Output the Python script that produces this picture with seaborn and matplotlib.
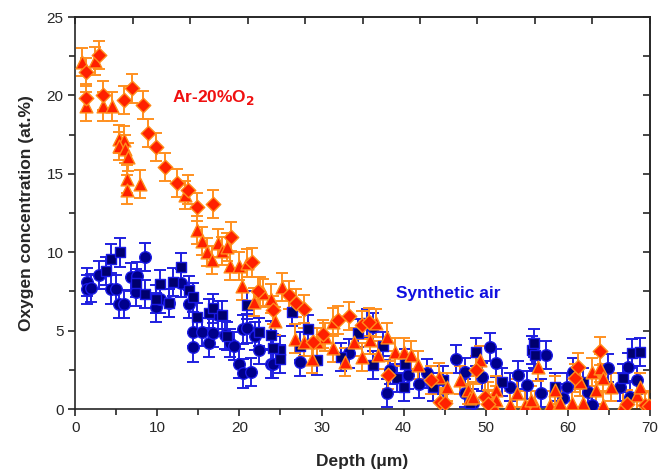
import numpy as np
import pandas as pd
import seaborn as sns
import matplotlib.pyplot as plt
from matplotlib.ticker import MultipleLocator

# Ar-20%O2 - losangos
ar_diam_x = [1.34, 2.84, 1.3, 3.37, 5.9, 6.9, 8.3, 8.85, 9.86, 10.9, 12.4, 13.7, 14.8, 16.8, 19.0,
             21.5, 22.3, 24.1, 26.0, 26.9, 27.9, 29.0, 30.2, 32.05, 33.4, 34.9, 35.8, 38.1, 43.4,
             44.4, 45.0, 48.8, 49.9, 60.9, 61.3, 63.9, 69.4, 50.3, 67.2, 69.9]
ar_diam_y = [21.5, 22.6, 19.85, 20.0, 19.7, 20.45, 19.4, 17.6, 16.7, 15.45, 14.4, 14.0, 12.9, 13.1, 11.0,
             9.35, 7.5, 6.3, 7.27, 6.74, 6.4, 4.3, 4.8, 5.7, 5.93, 5.36, 5.57, 2.17, 1.85,
             0.47, 0.36, 2.5, 0.8, 1.96, 2.66, 3.7, 0.26, 0.3, 0.3, 0.2]

# Ar-20%O2 - triangulos
ar_tri_x = [0.8, 2.35, 1.34, 3.37, 4.47, 5.3, 5.9, 5.3, 6.1, 6.4, 6.3, 6.3, 7.9, 13.4, 14.8, 15.4,
            16.0, 16.6, 17.4, 17.9, 18.5, 18.9, 19.9, 20.3, 20.9, 21.8, 22.5, 22.9, 23.9, 24.35,
            25.2, 26.8, 27.9, 28.9, 29.4, 30.4, 31.4, 31.4, 32.9, 33.9, 34.9, 35.9, 36.6, 36.9,
            37.95, 38.95, 40.0, 40.9, 41.8, 44.35, 45.3, 46.9, 47.9, 48.1, 49.3, 48.5, 50.3, 50.9,
            51.3, 53.0, 54.8, 56.0, 56.4, 57.8, 58.8, 58.4, 62.9, 63.9, 64.3, 65.3, 63.5, 61.9,
            59.0, 64.3, 66.75, 68.4, 68.8, 53.8, 51.3, 61.5, 55.5, 60.5]
ar_tri_y = [22.15, 22.2, 19.3, 19.3, 19.3, 17.2, 17.15, 16.8, 16.6, 16.1, 14.65, 14.0, 14.35, 13.65, 11.4, 10.7,
            10.0, 9.5, 10.6, 10.1, 10.35, 9.1, 9.1, 7.85, 9.3, 6.85, 7.5, 7.4, 7.05, 5.6,
            7.8, 4.5, 4.3, 3.2, 4.3, 4.6, 5.57, 3.87, 3.0, 4.3, 3.3, 4.4, 5.47, 3.44,
            4.6, 3.65, 3.65, 3.44, 2.8, 2.06, 1.4, 1.85, 1.2, 0.68, 3.1, 0.8, 0.8, 0.26,
            1.2, 0.26, 0.26, 0.26, 2.7, 0.26, 0.26, 1.2, 2.38, 2.6, 1.96, 1.42, 1.2, 0.36,
            0.36, 0.26, 0.26, 0.9, 1.42, 1.0, 0.57, 1.74, 0.6, 0.4]

# Ar sintetico - circulos
sa_circ_x = [1.42, 1.42, 1.9, 2.9, 4.4, 5.0, 5.36, 5.96, 6.8, 7.5, 7.4, 8.44, 9.86, 10.35, 11.36, 12.86,
             13.8, 14.3, 14.3, 15.4, 16.35, 16.8, 17.45, 18.26, 18.87, 19.4, 19.9, 20.4, 20.4, 20.98,
             21.4, 21.9, 22.4, 23.86, 24.1, 27.4, 33.3, 36.3, 38.35, 37.95, 40.5, 41.9, 42.8, 44.8,
             46.4, 47.5, 47.5, 50.5, 51.3, 49.6, 53.0, 54.0, 55.0, 55.9, 57.4, 56.8, 59.45, 48.5,
             59.9, 60.7, 62.5, 62.9, 64.9, 66.35, 67.4, 67.6, 68.4]
sa_circ_y = [8.12, 7.63, 7.7, 8.55, 7.63, 7.63, 6.7, 6.7, 8.4, 8.48, 7.48, 9.71, 6.48, 7.0, 6.74, 8.06,
             6.7, 4.93, 3.93, 4.93, 4.23, 4.83, 6.0, 4.72, 4.19, 4.02, 2.9, 2.27, 5.08, 5.14,
             2.38, 4.66, 3.76, 2.85, 2.9, 3.02, 3.55, 5.25, 2.49, 1.0, 2.17, 1.63, 2.27, 0.36,
             3.19, 1.0, 2.38, 3.97, 2.96, 2.06, 1.42, 2.17, 1.53, 3.55, 3.44, 1.0, 0.68, 0.36,
             1.42, 2.38, 1.1, 0.26, 2.6, 1.42, 2.7, 0.8, 1.85]

# Ar sintetico - quadrados
sa_sq_x = [3.77, 4.4, 5.4, 7.4, 8.44, 9.86, 10.35, 11.36, 11.85, 12.86, 13.9, 14.4, 14.8, 16.35, 16.8,
           17.85, 18.46, 20.9, 22.4, 23.86, 24.9, 24.9, 24.1, 26.4, 27.4, 28.4, 29.4, 32.35, 34.4,
           35.5, 36.3, 37.5, 39.2, 40.2, 40.0, 43.6, 44.75, 48.1, 48.8, 51.95, 55.7, 56.0, 55.9,
           58.4, 61.9, 66.75, 67.8, 68.8]
sa_sq_y = [8.8, 9.6, 9.99, 8.06, 7.33, 7.0, 8.0, 6.78, 8.08, 9.04, 7.6, 7.12, 5.89, 6.1, 6.42,
           6.0, 4.66, 6.63, 4.93, 4.72, 3.76, 3.17, 3.87, 6.2, 4.0, 5.08, 3.1, 3.34, 4.83,
           5.47, 2.8, 4.0, 1.96, 2.9, 1.42, 1.42, 1.85, 0.36, 3.65, 1.74, 3.76, 3.44, 4.2,
           1.42, 1.74, 1.96, 3.55, 3.65]

erro = 0.9  # barra de erro (at.%)

sns.set_style("ticks")
plt.rcParams['font.family'] = ['Liberation Sans', 'DejaVu Sans']

fig, ax = plt.subplots(figsize=(6.72, 4.74), dpi=100)
fig.subplots_adjust(left=0.112, right=0.967, top=0.964, bottom=0.137)

azul_barra = '#1f1fe0'
laranja_barra = '#ff9020'

series = [
    (sa_circ_x, sa_circ_y, 'o', 70, '#00008b', '#1a1ae6', azul_barra),
    (sa_sq_x, sa_sq_y, 's', 50, '#00006e', '#1a1ae6', azul_barra),
    (ar_tri_x, ar_tri_y, '^', 85, '#ff2000', '#ff8c1a', laranja_barra),
    (ar_diam_x, ar_diam_y, 'D', 55, '#ff2000', '#ff8c1a', laranja_barra),
]

for xs, ys, mk, tam, cor, borda, cor_barra in series:
    ax.errorbar(xs, ys, yerr=erro, fmt='none', ecolor=cor_barra, elinewidth=1.4,
                capsize=4, capthick=1.4, zorder=2)
    df = pd.DataFrame({'x': xs, 'y': ys})
    sns.scatterplot(data=df, x='x', y='y', marker=mk, s=tam, color=cor,
                    edgecolor=borda, linewidth=1.0, ax=ax, zorder=3)

ax.text(11.8, 19.9, 'Ar-20%O$_\\mathbf{2}$', color='#f01010', fontsize=12.5,
        fontweight='bold', va='center')
ax.text(39.1, 7.4, 'Synthetic air', color='#1010e0', fontsize=12.5,
        fontweight='bold', va='center')

ax.set_xlim(0, 70)
ax.set_ylim(0, 25)
ax.xaxis.set_major_locator(MultipleLocator(10))
ax.xaxis.set_minor_locator(MultipleLocator(5))
ax.yaxis.set_major_locator(MultipleLocator(5))
ax.yaxis.set_minor_locator(MultipleLocator(2.5))
ax.tick_params(which='major', direction='out', length=5, width=1.2, labelsize=11)
ax.tick_params(which='minor', direction='out', length=4, width=1.2)

# eixos de cima e da direita com ticks para dentro
topo = ax.secondary_xaxis('top')
topo.xaxis.set_major_locator(MultipleLocator(7))
topo.tick_params(direction='in', length=5, width=1.2, labeltop=False)
dir_ax = ax.secondary_yaxis('right')
dir_ax.yaxis.set_major_locator(MultipleLocator(2.5))
dir_ax.tick_params(direction='in', length=5, width=1.2, labelright=False)
for a in (ax, topo, dir_ax):
    for sp in a.spines.values():
        sp.set_linewidth(1.2)

ax.set_xlabel('Depth (\u03bcm)', fontsize=12.5, fontweight='bold', labelpad=14)
ax.set_ylabel('Oxygen concentration (at.%)', fontsize=12.5, fontweight='bold', labelpad=9)

plt.savefig('out.png', dpi=100)
